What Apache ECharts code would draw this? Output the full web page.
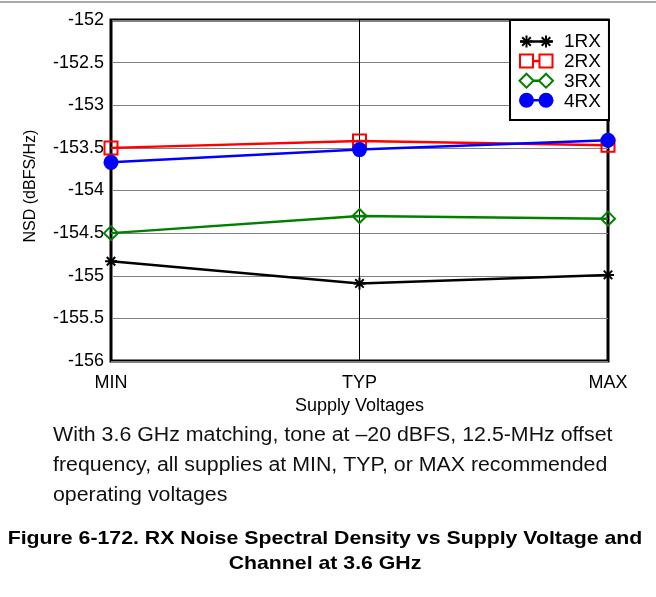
<!DOCTYPE html>
<html>
<head>
<meta charset="utf-8">
<script src="https://cdn.jsdelivr.net/npm/echarts@6/dist/echarts.min.js"></script>
<style>
html,body{margin:0;padding:0;background:#fff;}
#chart{width:656px;height:597px;}
</style>
</head>
<body>
<div id="chart"></div>
<script>
// ---- data ----
var categories = ['MIN', 'TYP', 'MAX'];
var seriesNames = ['1RX', '2RX', '3RX', '4RX'];
var rx1 = [-154.83, -155.09, -154.99];
var rx2 = [-153.50, -153.42, -153.47];
var rx3 = [-154.50, -154.30, -154.33];
var rx4 = [-153.67, -153.52, -153.41];
var yMin = -156, yMax = -152, yStep = 0.5;
var xTitle = 'Supply Voltages';
var yTitle = 'NSD (dBFS/Hz)';
var captionLines = [
  'With 3.6 GHz matching, tone at \u201320 dBFS, 12.5-MHz offset',
  'frequency, all supplies at MIN, TYP, or MAX recommended',
  'operating voltages'
];
var figureTitleLines = [
  'Figure 6-172. RX Noise Spectral Density vs Supply Voltage and',
  'Channel at 3.6 GHz'
];

// ---- styles ----
var FONT = '"Liberation Sans", Arial, sans-serif';
var colors = ['#000000', '#ff0000', '#008000', '#0000ff'];
var asteriskPath = 'path://M0,-10L0,10M-10,0L10,0M-7.07,-7.07L7.07,7.07M-7.07,7.07L7.07,-7.07';

var symbolDefs = [
  {symbol: asteriskPath, size: 12, itemStyle: {color: 'rgba(0,0,0,0)', borderColor: colors[0], borderWidth: 2}},
  {symbol: 'rect', size: 13, itemStyle: {color: 'rgba(0,0,0,0)', borderColor: colors[1], borderWidth: 2}},
  {symbol: 'diamond', size: 14, itemStyle: {color: 'rgba(0,0,0,0)', borderColor: colors[2], borderWidth: 2}},
  {symbol: 'circle', size: 15, itemStyle: {color: colors[3], borderWidth: 0}}
];
var dataSets = [rx1, rx2, rx3, rx4];

var series = dataSets.map(function (d, i) {
  return {
    name: seriesNames[i],
    type: 'line',
    data: d,
    symbol: symbolDefs[i].symbol,
    symbolSize: symbolDefs[i].size,
    showAllSymbol: true,
    lineStyle: {color: colors[i], width: 2.5},
    itemStyle: symbolDefs[i].itemStyle,
    color: colors[i],
    z: 3 + i,
    animation: false
  };
});

// legend icons drawn as graphics (line with two markers)
var legendX0 = 520, legendX1 = 553, legendY0 = 41.5, legendDY = 19.6;
var markerXs = [526.5, 546];
var legendGraphics = [];
seriesNames.forEach(function (n, i) {
  var y = legendY0 + i * legendDY;
  var c = colors[i];
  legendGraphics.push({
    type: 'line', z: 200, shape: {x1: legendX0, y1: y, x2: legendX1, y2: y},
    style: {stroke: c, lineWidth: 2.5}
  });
  markerXs.forEach(function (mx) {
    if (i === 0) {
      var arms = [[0, -6, 0, 6], [-6, 0, 6, 0], [-4.3, -4.3, 4.3, 4.3], [-4.3, 4.3, 4.3, -4.3]];
      arms.forEach(function (a) {
        legendGraphics.push({type: 'line', z: 201, shape: {x1: mx + a[0], y1: y + a[1], x2: mx + a[2], y2: y + a[3]},
          style: {stroke: c, lineWidth: 2}});
      });
    } else if (i === 1) {
      legendGraphics.push({type: 'rect', z: 201, shape: {x: mx - 6.5, y: y - 6.5, width: 13, height: 13},
        style: {stroke: c, lineWidth: 2, fill: '#fff'}});
    } else if (i === 2) {
      legendGraphics.push({type: 'polygon', z: 201, shape: {points: [[mx, y - 7], [mx + 7, y], [mx, y + 7], [mx - 7, y]]},
        style: {stroke: c, lineWidth: 2, fill: '#fff'}});
    } else {
      legendGraphics.push({type: 'circle', z: 201, shape: {cx: mx, cy: y, r: 7.5}, style: {fill: c}});
    }
  });
});

var textGraphics = [];
captionLines.forEach(function (t, i) {
  textGraphics.push({
    type: 'text', x: 53, y: 435 + i * 30, scaleX: 1.067,
    style: {text: t, fill: '#111', font: '20px ' + FONT, textAlign: 'left', textVerticalAlign: 'middle'}
  });
});
figureTitleLines.forEach(function (t, i) {
  textGraphics.push({
    type: 'text', x: 325, y: 539 + i * 25, scaleX: 1.12,
    style: {text: t, fill: '#000', font: 'bold 19px ' + FONT, textAlign: 'center', textVerticalAlign: 'middle'}
  });
});
textGraphics.push({
  type: 'line', shape: {x1: 0, y1: 2, x2: 656, y2: 2},
  style: {stroke: '#555', lineWidth: 1}
});

var chart = echarts.init(document.getElementById('chart'), null, {renderer: 'canvas'});
chart.setOption({
  animation: false,
  backgroundColor: '#fff',
  textStyle: {fontFamily: FONT},
  grid: {
    left: 111, right: 48, top: 20, bottom: 236,
    show: true, borderColor: '#000', borderWidth: 3, backgroundColor: 'transparent'
  },
  legend: {
    orient: 'vertical',
    left: 510, top: 20,
    padding: [12, 8, 9, 9],
    itemWidth: 39, itemHeight: 14, itemGap: 1,
    backgroundColor: '#fff',
    borderColor: '#000', borderWidth: 2,
    itemStyle: {opacity: 0},
    lineStyle: {opacity: 0},
    textStyle: {fontSize: 19, lineHeight: 18, color: '#000', fontFamily: FONT},
    data: seriesNames,
    z: 100
  },
  xAxis: {
    type: 'category',
    data: categories,
    boundaryGap: false,
    axisLine: {show: false},
    axisTick: {show: false},
    axisLabel: {fontSize: 18, color: '#000', margin: 13},
    splitLine: {show: true, lineStyle: {color: '#000', width: 1}},
    name: xTitle, nameLocation: 'middle', nameGap: 32,
    nameTextStyle: {fontSize: 18, color: '#000'}
  },
  yAxis: {
    type: 'value',
    min: yMin, max: yMax, interval: yStep,
    axisLine: {show: false},
    axisTick: {show: false},
    axisLabel: {fontSize: 18, color: '#000', margin: 7},
    splitLine: {show: true, lineStyle: {color: '#808080', width: 1}},
    name: yTitle, nameLocation: 'middle', nameGap: 72, nameRotate: 90,
    nameTextStyle: {fontSize: 16, color: '#000', padding: [0, 0, 0, 9]}
  },
  series: series,
  graphic: legendGraphics.concat(textGraphics)
});
</script>
</body>
</html>
